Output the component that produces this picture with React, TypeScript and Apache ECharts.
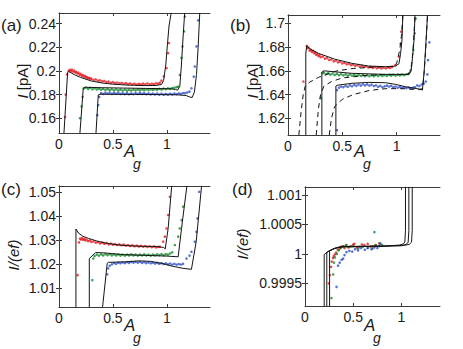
import React, { useEffect, useRef } from "react";
import * as echarts from "echarts";

// ---------- colours ----------
const RED = "#e2191f";
const GREEN = "#138a2c";
const BLUE = "#2d4fc6";
const INK = "#1a1a1a";

// ---------- shared tick values ----------
const xTicks = [0, 0.5, 1];
const yTicksA = [0.16, 0.18, 0.2, 0.22, 0.24];
const yTicksB = [1.62, 1.64, 1.66, 1.68, 1.7];
const yTicksC = [1.01, 1.02, 1.03, 1.04, 1.05];
const yTicksD = [0.9995, 1, 1.0005, 1.001];

// ---------- panel (a) ----------
const redDotsA = [
  [0.056, 0.161], [0.062, 0.18], [0.075, 0.197], [0.09, 0.2], [0.1, 0.2008], [0.11, 0.1998], [0.12, 0.2012],
  [0.13, 0.1995], [0.14, 0.2003], [0.15, 0.1988], [0.16, 0.1992], [0.17, 0.1978], [0.18, 0.1985], [0.19, 0.1968],
  [0.2, 0.1975], [0.21, 0.196], [0.22, 0.1965], [0.23, 0.1952], [0.24, 0.1958], [0.25, 0.1945], [0.26, 0.1948],
  [0.27, 0.1938], [0.28, 0.1942], [0.29, 0.1932], [0.3, 0.1935], [0.32, 0.1925], [0.34, 0.1928], [0.36, 0.1918],
  [0.38, 0.192], [0.4, 0.1912], [0.42, 0.1915], [0.44, 0.1905], [0.46, 0.191], [0.48, 0.19], [0.5, 0.1905],
  [0.52, 0.1897], [0.54, 0.1902], [0.56, 0.1895], [0.58, 0.19], [0.6, 0.1892], [0.62, 0.1896], [0.64, 0.1888],
  [0.66, 0.1894], [0.68, 0.1887], [0.7, 0.1892], [0.72, 0.1885], [0.74, 0.1891], [0.76, 0.1886], [0.78, 0.1893],
  [0.8, 0.1887], [0.82, 0.1894], [0.84, 0.1886], [0.86, 0.1892], [0.88, 0.1888], [0.9, 0.1895], [0.92, 0.1893],
  [0.935, 0.19], [0.95, 0.1918], [0.972, 0.1954], [0.997, 0.2023], [1.012, 0.215], [1.019, 0.2236],
];
const greenDotsA = [
  [0.194, 0.16], [0.21, 0.17], [0.219, 0.178], [0.23, 0.1852], [0.25, 0.1858], [0.27, 0.1848], [0.29, 0.1856],
  [0.31, 0.1845], [0.33, 0.1853], [0.35, 0.1843], [0.37, 0.185], [0.39, 0.1842], [0.41, 0.1849], [0.43, 0.1838],
  [0.45, 0.1846], [0.47, 0.1837], [0.49, 0.1845], [0.51, 0.1836], [0.53, 0.1843], [0.55, 0.1835], [0.57, 0.1842],
  [0.59, 0.1834], [0.61, 0.1841], [0.63, 0.1833], [0.65, 0.184], [0.67, 0.1834], [0.69, 0.1841], [0.71, 0.1835],
  [0.73, 0.1842], [0.75, 0.1836], [0.77, 0.1843], [0.79, 0.1837], [0.81, 0.1844], [0.83, 0.1838], [0.85, 0.1845],
  [0.87, 0.1839], [0.89, 0.1846], [0.91, 0.184], [0.93, 0.1848], [0.95, 0.1842], [0.97, 0.185], [0.99, 0.1845],
  [1.01, 0.1852], [1.03, 0.1848], [1.05, 0.1855], [1.07, 0.1858], [1.09, 0.1862], [1.105, 0.1867], [1.12, 0.1966],
  [1.136, 0.211], [1.145, 0.2207], [1.16, 0.2335], [1.167, 0.246],
];
const blueDotsA = [
  [0.355, 0.1626], [0.364, 0.171], [0.373, 0.178], [0.39, 0.1812], [0.41, 0.1805], [0.43, 0.1815], [0.45, 0.1808],
  [0.47, 0.1817], [0.49, 0.1806], [0.51, 0.1814], [0.53, 0.1807], [0.55, 0.1816], [0.57, 0.1805], [0.59, 0.1813],
  [0.61, 0.1804], [0.63, 0.1812], [0.65, 0.1803], [0.67, 0.1811], [0.69, 0.1804], [0.71, 0.1813], [0.73, 0.1805],
  [0.75, 0.1814], [0.77, 0.1806], [0.79, 0.1812], [0.81, 0.1803], [0.83, 0.181], [0.85, 0.1802], [0.87, 0.1809],
  [0.89, 0.1801], [0.91, 0.1808], [0.93, 0.18], [0.95, 0.1807], [0.97, 0.1799], [0.99, 0.1806], [1.01, 0.18],
  [1.03, 0.1807], [1.05, 0.1801], [1.07, 0.1808], [1.09, 0.1803], [1.11, 0.181], [1.13, 0.1806], [1.15, 0.1813],
  [1.17, 0.1812], [1.19, 0.1818], [1.21, 0.1825], [1.228, 0.1853], [1.25, 0.1952], [1.259, 0.2037], [1.275, 0.2207],
  [1.29, 0.2428],
];
const redFitA = [
  [0.046, 0.1475], [0.08, 0.199], [0.09, 0.1995], [0.1, 0.199], [0.15, 0.1965], [0.2, 0.1945], [0.3, 0.1915],
  [0.4, 0.1898], [0.5, 0.1888], [0.6, 0.1882], [0.7, 0.1878], [0.8, 0.1876], [0.9, 0.1877], [0.95, 0.1885],
  [0.97, 0.192], [0.99, 0.205], [1.005, 0.222], [1.02, 0.238], [1.04, 0.249],
];
const greenFitA = [
  [0.194, 0.1475], [0.225, 0.1855], [0.24, 0.1862], [0.4, 0.1858], [0.6, 0.1855], [0.8, 0.1852], [1.0, 0.185],
  [1.05, 0.1848], [1.08, 0.1842], [1.1, 0.1838], [1.12, 0.187], [1.135, 0.205], [1.15, 0.228], [1.165, 0.249],
];
const blueFitA = [
  [0.343, 0.1475], [0.364, 0.1796], [0.38, 0.1803], [0.5, 0.1802], [0.7, 0.1801], [0.9, 0.18], [1.1, 0.1798],
  [1.18, 0.1792], [1.21, 0.178], [1.235, 0.1776], [1.255, 0.182], [1.275, 0.197], [1.29, 0.22], [1.305, 0.249],
];

// ---------- panel (b) ----------
const redDotsB = [
  [0.142, 1.651], [0.173, 1.681], [0.18, 1.679], [0.19, 1.6795], [0.2, 1.677], [0.21, 1.6778], [0.22, 1.676],
  [0.23, 1.6768], [0.24, 1.6748], [0.25, 1.6755], [0.26, 1.6735], [0.27, 1.6742], [0.28, 1.6725], [0.29, 1.673],
  [0.3, 1.6715], [0.32, 1.672], [0.34, 1.6702], [0.36, 1.6706], [0.38, 1.6692], [0.4, 1.6695], [0.42, 1.668],
  [0.44, 1.6686], [0.46, 1.6672], [0.48, 1.6677], [0.5, 1.6662], [0.52, 1.6668], [0.54, 1.6655], [0.56, 1.666],
  [0.58, 1.6648], [0.6, 1.6652], [0.62, 1.6642], [0.64, 1.6647], [0.66, 1.6636], [0.68, 1.6642], [0.7, 1.6632],
  [0.72, 1.6638], [0.74, 1.6628], [0.76, 1.6634], [0.78, 1.6625], [0.8, 1.6631], [0.82, 1.6622], [0.84, 1.6629],
  [0.86, 1.662], [0.88, 1.6627], [0.9, 1.6621], [0.92, 1.6628], [0.94, 1.6624], [0.96, 1.6633], [0.99, 1.6649],
  [1.022, 1.672], [1.037, 1.683], [1.043, 1.693],
];
const greenDotsB = [
  [0.302, 1.637], [0.318, 1.658], [0.33, 1.6585], [0.35, 1.6572], [0.37, 1.658], [0.39, 1.6568], [0.41, 1.6577],
  [0.43, 1.6565], [0.45, 1.6574], [0.47, 1.6563], [0.49, 1.6572], [0.51, 1.6562], [0.53, 1.657], [0.55, 1.656],
  [0.57, 1.6569], [0.59, 1.6559], [0.61, 1.6567], [0.63, 1.6558], [0.65, 1.6566], [0.67, 1.6557], [0.69, 1.6565],
  [0.71, 1.6556], [0.73, 1.6564], [0.75, 1.6555], [0.77, 1.6563], [0.79, 1.6556], [0.81, 1.6564], [0.83, 1.6557],
  [0.85, 1.6565], [0.87, 1.6557], [0.89, 1.6564], [0.91, 1.6558], [0.93, 1.6566], [0.95, 1.6559], [0.97, 1.6567],
  [0.99, 1.656], [1.01, 1.6568], [1.03, 1.6562], [1.05, 1.6569], [1.07, 1.6564], [1.09, 1.6571], [1.11, 1.6575],
  [1.13, 1.6607], [1.154, 1.6775], [1.167, 1.6916], [1.176, 1.704],
];
const blueDotsB = [
  [0.451, 1.61], [0.451, 1.6438], [0.47, 1.6458], [0.49, 1.6468], [0.51, 1.6462], [0.53, 1.6474], [0.55, 1.6466],
  [0.57, 1.6478], [0.59, 1.647], [0.61, 1.6482], [0.63, 1.6474], [0.65, 1.6485], [0.67, 1.6476], [0.69, 1.6487],
  [0.71, 1.6478], [0.73, 1.6486], [0.75, 1.6476], [0.77, 1.6484], [0.79, 1.6472], [0.81, 1.6478], [0.83, 1.6466],
  [0.85, 1.6474], [0.87, 1.6462], [0.89, 1.647], [0.91, 1.6476], [0.93, 1.6468], [0.95, 1.6474], [0.97, 1.6462],
  [0.99, 1.6468], [1.01, 1.6458], [1.03, 1.6465], [1.05, 1.6456], [1.07, 1.6462], [1.09, 1.6455], [1.11, 1.646],
  [1.13, 1.6452], [1.15, 1.6458], [1.17, 1.6462], [1.19, 1.6478], [1.21, 1.6472], [1.23, 1.6485], [1.25, 1.6492],
  [1.269, 1.651], [1.284, 1.657], [1.29, 1.669], [1.302, 1.684],
];
const redFitB = [
  [0.164, 1.606], [0.164, 1.675], [0.173, 1.681], [0.2, 1.6785], [0.281, 1.6747], [0.435, 1.6697], [0.59, 1.6663],
  [0.744, 1.664], [0.898, 1.6635], [0.99, 1.664], [1.022, 1.666], [1.037, 1.6747], [1.05, 1.686], [1.058, 1.707],
];
const redDashB = [
  [0.1, 1.606], [0.12, 1.625], [0.14, 1.64], [0.16, 1.6475], [0.2, 1.6505], [0.28, 1.6545], [0.45, 1.66],
  [0.6, 1.662], [0.8, 1.6632], [0.95, 1.6636], [1.0, 1.666], [1.03, 1.678], [1.045, 1.69], [1.058, 1.707],
];
const greenFitB = [
  [0.312, 1.606], [0.312, 1.659], [0.33, 1.66], [0.59, 1.6579], [0.898, 1.657], [1.114, 1.657], [1.13, 1.659],
  [1.139, 1.6635], [1.161, 1.686], [1.17, 1.707],
];
const greenDashB = [
  [0.26, 1.606], [0.28, 1.628], [0.3, 1.64], [0.33, 1.647], [0.4, 1.651], [0.5, 1.654], [0.7, 1.656], [0.9, 1.657],
  [1.1, 1.657], [1.13, 1.66], [1.15, 1.675], [1.17, 1.707],
];
const blueFitB = [
  [0.441, 1.606], [0.441, 1.6472], [0.46, 1.648], [0.59, 1.6495], [0.744, 1.6503], [0.898, 1.65], [0.99, 1.6486],
  [1.083, 1.6466], [1.207, 1.6447], [1.238, 1.6438], [1.253, 1.658], [1.268, 1.68], [1.285, 1.707],
];
const blueDashB = [
  [0.38, 1.606], [0.4, 1.62], [0.43, 1.63], [0.5, 1.636], [0.6, 1.64], [0.75, 1.6435], [0.9, 1.645], [1.05, 1.645],
  [1.2, 1.6442], [1.24, 1.645], [1.255, 1.66], [1.27, 1.68], [1.285, 1.707],
];

// ---------- panel (c) ----------
const redDotsC = [
  [0.173, 1.0153], [0.185, 1.0289], [0.195, 1.0305], [0.205, 1.0301], [0.215, 1.0307], [0.225, 1.03], [0.235, 1.0304],
  [0.245, 1.0297], [0.255, 1.0301], [0.27, 1.0294], [0.285, 1.0297], [0.3, 1.0291], [0.32, 1.0293], [0.34, 1.0288],
  [0.36, 1.029], [0.38, 1.0285], [0.4, 1.0288], [0.42, 1.0283], [0.44, 1.0286], [0.46, 1.0281], [0.48, 1.0284],
  [0.5, 1.028], [0.52, 1.0282], [0.54, 1.0278], [0.56, 1.0281], [0.58, 1.0277], [0.6, 1.028], [0.62, 1.0276],
  [0.64, 1.0278], [0.66, 1.0274], [0.68, 1.0277], [0.7, 1.0273], [0.72, 1.0276], [0.74, 1.0272], [0.76, 1.0275],
  [0.78, 1.0271], [0.8, 1.0274], [0.82, 1.027], [0.84, 1.0273], [0.86, 1.0269], [0.88, 1.0272], [0.9, 1.0268],
  [0.92, 1.027], [0.935, 1.0271], [0.966, 1.0292], [0.981, 1.0313], [0.997, 1.0347], [1.012, 1.0403], [1.028, 1.0479],
];
const greenDotsC = [
  [0.309, 1.0132], [0.318, 1.0222], [0.33, 1.0232], [0.35, 1.0238], [0.37, 1.0234], [0.39, 1.0239], [0.41, 1.0235],
  [0.43, 1.024], [0.45, 1.0236], [0.47, 1.024], [0.49, 1.0235], [0.51, 1.0239], [0.53, 1.0235], [0.55, 1.0239],
  [0.57, 1.0234], [0.59, 1.0238], [0.61, 1.0234], [0.63, 1.0238], [0.65, 1.0235], [0.67, 1.0239], [0.69, 1.0235],
  [0.71, 1.0238], [0.73, 1.0234], [0.75, 1.0238], [0.77, 1.0235], [0.79, 1.0239], [0.81, 1.0235], [0.83, 1.0238],
  [0.85, 1.0234], [0.87, 1.0238], [0.89, 1.0235], [0.91, 1.0239], [0.93, 1.0236], [0.95, 1.024], [0.97, 1.0236],
  [0.99, 1.024], [1.01, 1.0238], [1.03, 1.0243], [1.05, 1.0248], [1.074, 1.0278], [1.105, 1.0313], [1.12, 1.0347],
  [1.136, 1.0382], [1.151, 1.0438],
];
const blueDotsC = [
  [0.447, 1.0156], [0.456, 1.0181], [0.47, 1.0192], [0.49, 1.0198], [0.51, 1.0203], [0.53, 1.02], [0.55, 1.0205],
  [0.57, 1.0202], [0.59, 1.0206], [0.61, 1.0203], [0.63, 1.0207], [0.65, 1.0204], [0.67, 1.0208], [0.69, 1.0205],
  [0.71, 1.0208], [0.73, 1.0205], [0.75, 1.0208], [0.77, 1.0204], [0.79, 1.0207], [0.81, 1.0203], [0.83, 1.0206],
  [0.85, 1.0202], [0.87, 1.0205], [0.89, 1.0201], [0.91, 1.0204], [0.93, 1.02], [0.95, 1.0203], [0.97, 1.0199],
  [0.99, 1.0202], [1.01, 1.0198], [1.03, 1.0201], [1.05, 1.0197], [1.07, 1.02], [1.09, 1.0196], [1.11, 1.0199],
  [1.13, 1.0197], [1.15, 1.02], [1.182, 1.0222], [1.21, 1.0234], [1.228, 1.025], [1.259, 1.0292], [1.275, 1.0333],
  [1.284, 1.0389], [1.3, 1.05],
];
const redFitC = [
  [0.157, 1.002], [0.157, 1.0345], [0.18, 1.0328], [0.22, 1.0315], [0.272, 1.0306], [0.35, 1.0295], [0.426, 1.0287],
  [0.52, 1.028], [0.611, 1.0276], [0.75, 1.0273], [0.9, 1.0272], [0.97, 1.0268], [0.985, 1.0262], [1.012, 1.0347],
  [1.045, 1.0525],
];
const greenFitC = [
  [0.281, 1.002], [0.281, 1.0222], [0.34, 1.0247], [0.426, 1.0245], [0.6, 1.0238], [0.8, 1.0235], [1.0, 1.0232],
  [1.105, 1.0229], [1.136, 1.0347], [1.186, 1.0525],
];
const blueFitC = [
  [0.404, 1.002], [0.447, 1.0202], [0.456, 1.0206], [0.611, 1.0208], [0.75, 1.0212], [0.85, 1.021], [0.95, 1.0202],
  [1.05, 1.019], [1.151, 1.0181], [1.228, 1.0177], [1.272, 1.0292], [1.322, 1.0525],
];

// ---------- panel (d) ----------
const redDotsD = [
  [0.247, 0.9995], [0.258, 0.99964], [0.271, 0.99978], [0.278, 0.99987], [0.29, 0.99993], [0.299, 0.99996],
  [0.31, 0.99999], [0.323, 1.00002], [0.34, 1.00007], [0.357, 1.00009], [0.375, 1.00012], [0.392, 1.00013],
  [0.41, 1.0001], [0.426, 1.00015], [0.45, 1.00011], [0.477, 1.00013], [0.5, 1.00016], [0.512, 1.00017],
  [0.54, 1.00011], [0.563, 1.00012], [0.59, 1.00016], [0.615, 1.00015], [0.65, 1.00017], [0.68, 1.00012],
  [0.7, 1.00013], [0.735, 1.00015], [0.77, 1.00018],
];
const greenDotsD = [
  [0.275, 0.99925], [0.292, 0.99965], [0.3, 0.99985], [0.31, 0.99994], [0.33, 1.0], [0.35, 1.00006], [0.37, 1.0001],
  [0.4, 1.00013], [0.43, 1.00015], [0.46, 1.00012], [0.5, 1.00013], [0.55, 1.00009], [0.6, 1.00012], [0.65, 1.0001],
  [0.7, 1.00009], [0.72, 1.00037], [0.73, 1.00015], [0.78, 1.00017], [0.8, 1.00015],
];
const blueDotsD = [
  [0.327, 0.99944], [0.343, 0.9998], [0.36, 0.99985], [0.38, 0.9999], [0.395, 0.99992], [0.41, 0.99998],
  [0.43, 1.00003], [0.46, 1.00005], [0.49, 1.00004], [0.52, 1.00008], [0.55, 1.00006], [0.58, 1.0001],
  [0.62, 1.00007], [0.65, 1.0001], [0.69, 1.00008], [0.72, 1.00011], [0.75, 1.0001], [0.77, 1.00013],
  [0.78, 1.00018],
];
const fitD1 = [
  [0.199, 0.99909], [0.199, 0.99999], [0.25, 1.00005], [0.3, 1.00009], [0.36, 1.00012], [0.6, 1.000125],
  [0.8, 1.00013], [0.98, 1.00015], [1.02, 1.00017], [1.035, 1.0002], [1.042, 1.0004], [1.042, 1.00114],
];
const fitD2 = [
  [0.226, 0.99909], [0.226, 1.00003], [0.3, 1.00009], [0.38, 1.00012], [0.6, 1.000125], [0.8, 1.00013],
  [1.0, 1.00014], [1.05, 1.00016], [1.07, 1.0002], [1.077, 1.0004], [1.077, 1.00114],
];
const fitD3 = [
  [0.255, 0.99909], [0.255, 1.00005], [0.32, 1.0001], [0.4, 1.000125], [0.6, 1.00013], [0.8, 1.000133],
  [1.0, 1.00014], [1.08, 1.00016], [1.105, 1.0002], [1.112, 1.0004], [1.112, 1.00114],
];

// ---------- panel layout ----------
const panels = [
  { grid: { left: 59, top: 13, width: 151, height: 120 }, y: [0.1475, 0.249], yTicks: yTicksA,
    dots: [redDotsA, greenDotsA, blueDotsA], fits: [redFitA, greenFitA, blueFitA], dashes: [] as number[][][] },
  { grid: { left: 288, top: 15, width: 152, height: 120 }, y: [1.606, 1.707], yTicks: yTicksB,
    dots: [redDotsB, greenDotsB, blueDotsB], fits: [redFitB, greenFitB, blueFitB], dashes: [redDashB, greenDashB, blueDashB] },
  { grid: { left: 59, top: 186, width: 151, height: 121 }, y: [1.002, 1.0524], yTicks: yTicksC,
    dots: [redDotsC, greenDotsC, blueDotsC], fits: [redFitC, greenFitC, blueFitC], dashes: [] as number[][][] },
  { grid: { left: 305, top: 187, width: 135, height: 119 }, y: [0.999115, 1.001136], yTicks: yTicksD,
    dots: [redDotsD, greenDotsD, blueDotsD], fits: [fitD1, fitD2, fitD3], dashes: [] as number[][][] },
];

const FONT = "'Liberation Sans', Arial, Helvetica, sans-serif";
const fmt = (v: number) => String(parseFloat(Number(v).toFixed(6)));

function buildOption() {
  const grid: any[] = [];
  const xAxis: any[] = [];
  const yAxis: any[] = [];
  const series: any[] = [];
  const lineAxis = { show: true, lineStyle: { color: "#3a3a3a", width: 1 } };
  panels.forEach((p, i) => {
    grid.push({ ...p.grid, show: false, containLabel: false });
    const xBase = {
      type: "value", gridIndex: i, min: 0, max: 1.4, splitLine: { show: false }, axisLine: lineAxis,
    };
    xAxis.push({
      ...xBase, position: "bottom",
      axisTick: { inside: true, length: 3, customValues: xTicks, lineStyle: { color: "#3a3a3a" } },
      axisLabel: { customValues: xTicks, formatter: fmt, color: INK, fontSize: 14, fontFamily: FONT, margin: 4 },
    });
    xAxis.push({
      ...xBase, position: "top",
      axisTick: { inside: true, length: 3, customValues: xTicks, lineStyle: { color: "#3a3a3a" } },
      axisLabel: { show: false },
    });
    const yBase = {
      type: "value", gridIndex: i, min: p.y[0], max: p.y[1], splitLine: { show: false }, axisLine: lineAxis, scale: true,
    };
    yAxis.push({
      ...yBase, position: "left",
      axisTick: { inside: true, length: 3, customValues: p.yTicks, lineStyle: { color: "#3a3a3a" } },
      axisLabel: { customValues: p.yTicks, formatter: fmt, color: INK, fontSize: 14, fontFamily: FONT, margin: 3 },
    });
    yAxis.push({
      ...yBase, position: "right",
      axisTick: { inside: true, length: 3, customValues: p.yTicks, lineStyle: { color: "#3a3a3a" } },
      axisLabel: { show: false },
    });
    const xi = i * 2;
    const yi = i * 2;
    const colors = [RED, GREEN, BLUE];
    p.dots.forEach((d, k) => {
      series.push({
        type: "scatter", xAxisIndex: xi, yAxisIndex: yi, data: d, symbol: "circle", symbolSize: 2.6,
        itemStyle: { color: colors[k] }, z: 2, silent: true,
      });
    });
    p.dashes.forEach((d) => {
      series.push({
        type: "line", xAxisIndex: xi, yAxisIndex: yi, data: d, showSymbol: false, smooth: false,
        lineStyle: { color: "#111", width: 1, type: [5, 4] }, z: 3, silent: true,
      });
    });
    p.fits.forEach((d) => {
      series.push({
        type: "line", xAxisIndex: xi, yAxisIndex: yi, data: d, showSymbol: false, smooth: false,
        lineStyle: { color: "#151515", width: 1 }, z: 3, silent: true,
      });
    });
  });

  const txt = (text: string, x: number, y: number, size: number, extra: any = {}) => ({
    type: "text", x, y, silent: true,
    style: { text, fontSize: size, fontFamily: FONT, fill: INK, textVerticalAlign: "middle", ...extra },
  });
  const agLabel = (x: number, y: number) => [
    txt("A", x, y, 17, { fontStyle: "italic" }),
    txt("g", x + 9, y + 13, 14, { fontStyle: "italic" }),
  ];
  const yName = (rich: string, x: number, y: number) => ({
    type: "text", x, y, rotation: Math.PI / 2, silent: true,
    style: {
      text: rich, fontSize: 15, fontFamily: FONT, fill: INK, align: "center", verticalAlign: "middle",
      rich: { i: { fontStyle: "italic", fontSize: 15, fontFamily: FONT, fill: INK } },
    },
  });

  const graphic = [
    txt("(a)", 1, 25, 17),
    txt("(b)", 230, 25, 17),
    txt("(c)", 1, 189, 17),
    txt("(d)", 232, 189, 17),
    yName("{i|I} [pA]", 22, 81),
    yName("{i|I} [pA]", 252, 81),
    yName("{i|I/(ef)}", 13, 255),
    yName("{i|I/(ef)}", 242, 244),
    ...agLabel(124, 151),
    ...agLabel(354, 151),
    ...agLabel(124, 325),
    ...agLabel(364, 325),
  ];

  return { animation: false, backgroundColor: "#ffffff", grid, xAxis, yAxis, series, graphic };
}

export default function App() {
  const ref = useRef<HTMLDivElement>(null);
  useEffect(() => {
    if (!ref.current) return;
    const chart = echarts.init(ref.current, undefined, { renderer: "svg" });
    chart.setOption(buildOption() as any);
    return () => chart.dispose();
  }, []);
  return (
    <div
      ref={ref}
      style={{ position: "fixed", left: 0, top: 0, width: 463, height: 349, background: "#fff" }}
    />
  );
}
